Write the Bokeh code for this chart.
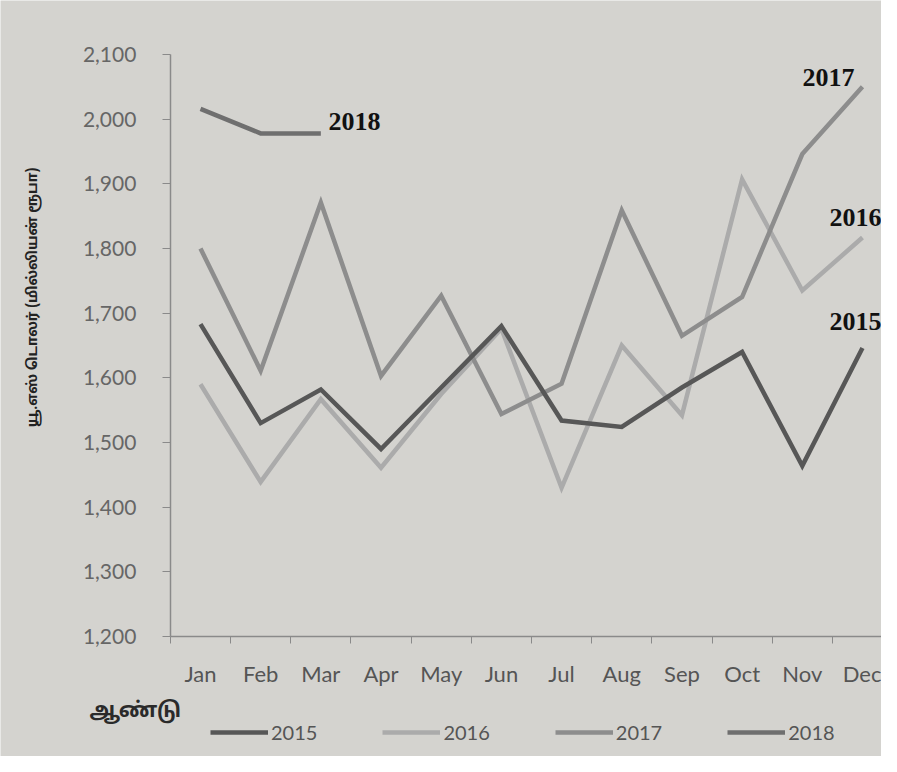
import math
from bokeh.plotting import figure
from bokeh.models import (Label, Legend, LegendItem, FixedTicker,
                          NumeralTickFormatter, Range1d, ColumnDataSource)
from bokeh.embed import file_html
from bokeh.resources import INLINE

# ---------------- data ----------------
months = ["Jan", "Feb", "Mar", "Apr", "May", "Jun",
          "Jul", "Aug", "Sep", "Oct", "Nov", "Dec"]
years = ["2015", "2016", "2017", "2018"]
v2015 = [1683, 1530, 1582, 1490, 1585, 1680, 1534, 1524, 1585, 1640, 1464, 1646]
v2016 = [1590, 1439, 1567, 1461, 1575, 1676, 1430, 1650, 1542, 1907, 1735, 1817]
v2017 = [1800, 1611, 1871, 1603, 1727, 1544, 1591, 1859, 1665, 1725, 1946, 2050]
v2018 = [2016, 1978, 1978]
y_ticks = [1200, 1300, 1400, 1500, 1600, 1700, 1800, 1900, 2000, 2100]
y_title = "யூ.எஸ் டொலர் (மில்லியன் ரூபா)"
x_title = "ஆண்டு"

series = {"2015": v2015, "2016": v2016, "2017": v2017, "2018": v2018}
colors = {"2015": "#575757", "2016": "#ababab", "2017": "#8d8d8d", "2018": "#6f6f6f"}

BG = "#d4d3cf"
TAMIL = "Noto Sans Tamil"
W, H = 881, 756

# plot area geometry (pixels inside the figure)
AX_LEFT, AX_TOP, AX_BOTTOM = 169.9, 54.0, 636.0
PX_PER_MONTH = 60.18
y_lo, y_hi = y_ticks[0], y_ticks[-1]
px_per_unit = (AX_BOTTOM - AX_TOP) / (y_hi - y_lo)

x_start = -AX_LEFT / PX_PER_MONTH
x_end = (W - AX_LEFT) / PX_PER_MONTH
y_start = y_lo - (H - AX_BOTTOM) / px_per_unit
y_end = y_hi + AX_TOP / px_per_unit

p = figure(width=W, height=H, output_backend="svg", toolbar_location=None,
           x_range=Range1d(x_start, x_end), y_range=Range1d(y_start, y_end),
           min_border=0)
p.background_fill_color = BG
p.border_fill_color = BG
p.outline_line_color = None
p.grid.visible = False

renderers = {}
for yr in ["2016", "2017", "2015", "2018"]:
    vals = series[yr]
    src = ColumnDataSource(dict(x=[i + 0.5 for i in range(len(vals))], y=vals))
    renderers[yr] = p.line("x", "y", source=src, line_color=colors[yr],
                           line_width=4.5, line_join="miter")

# x axis (drawn at y = 1200)
xa = p.xaxis[0]
xa.fixed_location = y_lo
xa.bounds = (0, x_end)
xa.ticker = FixedTicker(ticks=[i + 0.5 for i in range(len(months))],
                        minor_ticks=list(range(len(months))))
xa.major_label_overrides = {i + 0.5: m for i, m in enumerate(months)}
xa.major_tick_line_color = None
xa.major_tick_out = 0
xa.major_tick_in = 0
xa.minor_tick_line_color = "#8a8a8a"
xa.minor_tick_out = 7
xa.minor_tick_in = 0
xa.axis_line_color = "#8a8a8a"
xa.axis_line_width = 1.5
xa.major_label_standoff = 16
xa.major_label_text_font = "Lato"
xa.major_label_text_font_size = "22px"
xa.major_label_text_color = "#555555"

# y axis (drawn at x = 0, the left edge of January)
ya = p.yaxis[0]
ya.fixed_location = 0
ya.bounds = (y_lo, y_hi)
ya.ticker = FixedTicker(ticks=y_ticks)
ya.formatter = NumeralTickFormatter(format="0,0")
ya.axis_line_color = "#8a8a8a"
ya.axis_line_width = 1.5
ya.major_tick_line_color = "#8a8a8a"
ya.major_tick_out = 8
ya.major_tick_in = 0
ya.minor_tick_line_color = None
ya.major_label_standoff = 26
ya.major_label_text_font = "Lato"
ya.major_label_text_font_size = "21px"
ya.major_label_text_color = "#666666"

# titles
p.add_layout(Label(x=33, y=H - 297, x_units="screen", y_units="screen",
                   text=y_title, angle=math.pi / 2, text_align="center",
                   text_baseline="middle", text_font=TAMIL,
                   text_font_style="bold", text_font_size="14px",
                   text_color="#222222"))
p.add_layout(Label(x=89, y=H - 711, x_units="screen", y_units="screen",
                   text=x_title, text_align="left", text_baseline="middle",
                   text_font=TAMIL, text_font_style="bold",
                   text_font_size="21px", text_color="#2a2a2a"))

# end labels
for txt, lx, ly in [("2018", 328, 121), ("2017", 802, 77),
                    ("2016", 829, 217), ("2015", 829, 321)]:
    p.add_layout(Label(x=lx, y=H - ly, x_units="screen", y_units="screen",
                       text=txt, text_align="left", text_baseline="middle",
                       text_font="Liberation Serif", text_font_style="bold",
                       text_font_size="26px", text_color="#111111"))

# legend (location = its bottom-left corner)
legend = Legend(items=[LegendItem(label=yr, renderers=[renderers[yr]]) for yr in years],
                orientation="horizontal", location=(210, H - 744),
                glyph_width=58, glyph_height=22, label_standoff=3, spacing=65,
                padding=0, margin=0, background_fill_alpha=0,
                border_line_alpha=0, label_text_font="Lato",
                label_text_font_size="20px", label_text_color="#555555")
p.add_layout(legend, "center")

open("out.html", "w").write(file_html(p, INLINE))
